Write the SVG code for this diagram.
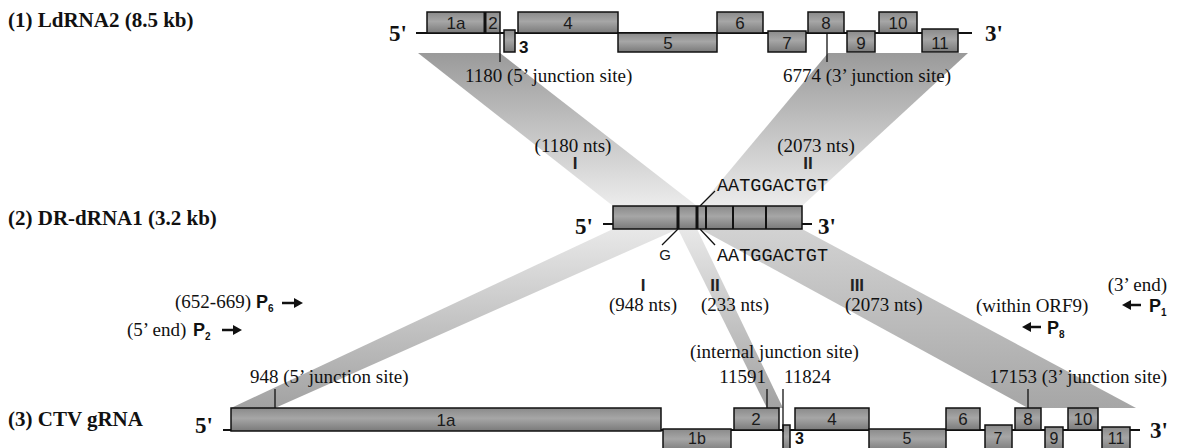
<svg xmlns="http://www.w3.org/2000/svg" width="1181" height="448" viewBox="0 0 1181 448">
  <style>
    .title { font-family: "Liberation Serif", serif; font-weight: bold; font-size: 21px; fill: #111; }
    .end { font-family: "Liberation Serif", serif; font-weight: bold; font-size: 23px; fill: #111; }
    .lbl { font-family: "Liberation Serif", serif; font-size: 19px; fill: #111; }
    .seq { font-family: "Liberation Mono", monospace; font-size: 18.5px; fill: #111; }
    .roman { font-family: "Liberation Sans", sans-serif; font-weight: bold; font-size: 17px; fill: #222; text-anchor: middle; }
    .orf { font-family: "Liberation Sans", sans-serif; font-size: 17px; fill: #1a1a1a; text-anchor: middle; }
    .orf3 { font-family: "Liberation Sans", sans-serif; font-weight: bold; font-size: 17px; fill: #111; }
    .low { font-size: 16px; }
    .prim { font-family: "Liberation Sans", sans-serif; font-weight: bold; font-size: 18px; fill: #111; }
    .sub { font-size: 10px; }
    .box { fill: url(#boxFill); stroke: #111; stroke-width: 1.5; }
    .bb { stroke: #111; stroke-width: 2; fill: none; }
    .tick { stroke: #111; stroke-width: 1.3; fill: none; }
    .div { stroke: #111; fill: none; }
    .arrow { stroke: #111; stroke-width: 2.5; fill: none; }
    .head { fill: #111; }
  </style>
  <defs>
    <linearGradient id="boxFill" x1="0" y1="0" x2="0" y2="1">
      <stop offset="0" stop-color="#8a8a8a"/>
      <stop offset="0.45" stop-color="#a6a6a6"/>
      <stop offset="1" stop-color="#7a7a7a"/>
    </linearGradient>
    <linearGradient id="topBand" gradientUnits="userSpaceOnUse" x1="0" y1="53" x2="0" y2="206">
      <stop offset="0" stop-color="#9a9a9a"/>
      <stop offset="1" stop-color="#ececec"/>
    </linearGradient>
    <linearGradient id="lowBand" gradientUnits="userSpaceOnUse" x1="0" y1="229" x2="0" y2="408">
      <stop offset="0" stop-color="#e8e8e8"/>
      <stop offset="1" stop-color="#a2a2a2"/>
    </linearGradient>
    <linearGradient id="lowBand3" gradientUnits="userSpaceOnUse" x1="0" y1="229" x2="0" y2="408">
      <stop offset="0" stop-color="#d2d2d2"/>
      <stop offset="1" stop-color="#a6a6a6"/>
    </linearGradient>
  </defs>

  <!-- shaded bands linking homologous regions -->
  <g id="connectors">
    <polygon id="band-top-I" points="418,53 500,53 697,206 613,206" fill="url(#topBand)"/>
    <polygon id="band-top-II" points="828,53 968,53 802,206 700,206" fill="url(#topBand)"/>
    <polygon id="band-low-I" points="613,229 678,229 275,408 231,408" fill="url(#lowBand)"/>
    <polygon id="band-low-II" points="678,229 697,229 783,408 767,408" fill="url(#lowBand)"/>
    <polygon id="band-low-III" points="700,229 802,229 1136,408 1028,408" fill="url(#lowBand3)"/>
  </g>

  <!-- (1) LdRNA2 -->
  <g id="ldrna2">
    <text class="title" x="8" y="27">(1) LdRNA2 (8.5 kb)</text>
    <text class="end" x="389" y="41">5'</text>
    <line class="bb" x1="416" y1="33" x2="972" y2="33"/>
    <rect class="box" x="427" y="12" width="73" height="21"/>
    <line class="div" x1="485" y1="12" x2="485" y2="33" stroke-width="3"/>
    <text class="orf" x="456" y="29">1a</text>
    <text class="orf" x="493" y="29">2</text>
    <rect class="box" x="504" y="30" width="11" height="22"/>
    <text class="orf3" x="519" y="53">3</text>
    <rect class="box" x="518" y="12" width="100" height="21"/>
    <text class="orf" x="568" y="29">4</text>
    <rect class="box" x="618" y="33" width="99" height="19"/>
    <text class="orf" x="668" y="49">5</text>
    <rect class="box" x="717" y="12" width="46" height="21"/>
    <text class="orf" x="740" y="29">6</text>
    <rect class="box" x="768" y="31" width="38" height="21"/>
    <text class="orf" x="787" y="49">7</text>
    <rect class="box" x="808" y="12" width="36" height="21"/>
    <text class="orf" x="826" y="29">8</text>
    <rect class="box" x="847" y="31" width="28" height="21"/>
    <text class="orf" x="861" y="49">9</text>
    <rect class="box" x="879" y="12" width="38" height="21"/>
    <text class="orf" x="898" y="29">10</text>
    <rect class="box" x="922" y="29" width="36" height="23"/>
    <text class="orf" x="940" y="49">11</text>
    <text class="end" x="985" y="41">3'</text>
    <line class="tick" x1="500" y1="33" x2="500" y2="62"/>
    <line class="tick" x1="827" y1="33" x2="827" y2="62"/>
    <text class="lbl" x="465" y="82">1180 (5’ junction site)</text>
    <text class="lbl" x="783" y="82">6774 (3’ junction site)</text>
    <text class="lbl" x="573" y="152" text-anchor="middle">(1180 nts)</text>
    <text class="roman" x="575" y="169">I</text>
    <text class="lbl" x="816" y="152" text-anchor="middle">(2073 nts)</text>
    <text class="roman" x="808" y="169">II</text>
  </g>

  <!-- (2) DR-dRNA1 -->
  <g id="dr-drna1">
    <text class="title" x="8" y="225">(2) DR-dRNA1 (3.2 kb)</text>
    <text class="end" x="575" y="234">5'</text>
    <line class="bb" x1="603" y1="224" x2="812" y2="224"/>
    <rect class="box" x="613" y="206" width="189" height="23"/>
    <line class="div" x1="678" y1="206" x2="678" y2="229" stroke-width="3"/>
    <line class="div" x1="697" y1="206" x2="697" y2="229" stroke-width="3"/>
    <line class="div" x1="706" y1="206" x2="706" y2="229" stroke-width="2"/>
    <line class="div" x1="733" y1="206" x2="733" y2="229" stroke-width="2"/>
    <line class="div" x1="766" y1="206" x2="766" y2="229" stroke-width="2"/>
    <text class="end" x="818" y="234">3'</text>
    <line class="tick" x1="700" y1="206" x2="715" y2="191"/>
    <text class="seq" x="717" y="191">AATGGACTGT</text>
    <line class="tick" x1="678" y1="229" x2="662" y2="245"/>
    <text class="orf" x="665" y="260" style="font-size:15px">G</text>
    <line class="tick" x1="700" y1="229" x2="715" y2="245"/>
    <text class="seq" x="717" y="261">AATGGACTGT</text>
  </g>

  <!-- segment labels between (2) and (3) -->
  <g id="segments">
    <text class="roman" x="643" y="291">I</text>
    <text class="lbl" x="643" y="311" text-anchor="middle">(948 nts)</text>
    <text class="roman" x="715" y="291">II</text>
    <text class="lbl" x="701" y="311">(233 nts)</text>
    <text class="roman" x="857" y="291">III</text>
    <text class="lbl" x="845" y="311">(2073 nts)</text>
    <text class="lbl" x="690" y="358">(internal junction site)</text>
  </g>

  <!-- primers -->
  <g id="primers">
    <text class="lbl" x="1167" y="291" text-anchor="end">(3’ end)</text>
    <line class="arrow" x1="1141" y1="305" x2="1129" y2="305"/>
    <polygon class="head" points="1122,305 1131,300 1131,310"/>
    <text class="prim" x="1149" y="312">P<tspan class="sub" dy="4">1</tspan></text>

    <text class="lbl" x="976" y="312">(within ORF9)</text>
    <line class="arrow" x1="1041" y1="327" x2="1029" y2="327"/>
    <polygon class="head" points="1022,327 1031,322 1031,332"/>
    <text class="prim" x="1047" y="334">P<tspan class="sub" dy="4">8</tspan></text>

    <text class="lbl" x="175" y="308">(652-669)</text>
    <text class="prim" x="256" y="308">P<tspan class="sub" dy="4">6</tspan></text>
    <line class="arrow" x1="282" y1="303" x2="296" y2="303"/>
    <polygon class="head" points="303,303 294,298 294,308"/>

    <text class="lbl" x="127" y="336">(5’ end)</text>
    <text class="prim" x="193" y="336">P<tspan class="sub" dy="4">2</tspan></text>
    <line class="arrow" x1="222" y1="330" x2="235" y2="330"/>
    <polygon class="head" points="242,330 233,325 233,335"/>
  </g>

  <!-- (3) CTV gRNA -->
  <g id="ctv-grna">
    <text class="title" x="8" y="426">(3) CTV gRNA</text>
    <text class="end" x="195" y="433">5'</text>
    <line class="bb" x1="223" y1="430" x2="1140" y2="430"/>
    <rect class="box" x="231" y="408" width="430" height="23"/>
    <text class="orf" x="446" y="426">1a</text>
    <rect class="box" x="663" y="429" width="68" height="22"/>
    <text class="orf low" x="697" y="444">1b</text>
    <rect class="box" x="734" y="408" width="45" height="22"/>
    <text class="orf" x="756" y="425">2</text>
    <rect class="box" x="783" y="425" width="7" height="26"/>
    <text class="orf3 low" x="795" y="444">3</text>
    <rect class="box" x="795" y="408" width="74" height="22"/>
    <text class="orf" x="832" y="425">4</text>
    <rect class="box" x="869" y="429" width="77" height="22"/>
    <text class="orf low" x="907" y="444">5</text>
    <rect class="box" x="946" y="408" width="34" height="22"/>
    <text class="orf" x="963" y="425">6</text>
    <rect class="box" x="985" y="425" width="27" height="26"/>
    <text class="orf low" x="998" y="444">7</text>
    <rect class="box" x="1015" y="408" width="26" height="22"/>
    <text class="orf" x="1028" y="425">8</text>
    <rect class="box" x="1045" y="427" width="18" height="24"/>
    <text class="orf low" x="1054" y="444">9</text>
    <rect class="box" x="1068" y="408" width="30" height="22"/>
    <text class="orf" x="1083" y="425">10</text>
    <rect class="box" x="1102" y="427" width="28" height="24"/>
    <text class="orf low" x="1116" y="444">11</text>
    <text class="end" x="1150" y="438">3'</text>
    <line class="tick" x1="275" y1="389" x2="275" y2="408"/>
    <line class="tick" x1="767" y1="389" x2="767" y2="408"/>
    <line class="tick" x1="783" y1="389" x2="783" y2="432"/>
    <line class="tick" x1="1028" y1="389" x2="1028" y2="408"/>
    <text class="lbl" x="250" y="383">948 (5’ junction site)</text>
    <text class="lbl" x="766" y="383" text-anchor="end">11591</text>
    <text class="lbl" x="784" y="383">11824</text>
    <text class="lbl" x="1167" y="383" text-anchor="end">17153 (3’ junction site)</text>
  </g>
</svg>
